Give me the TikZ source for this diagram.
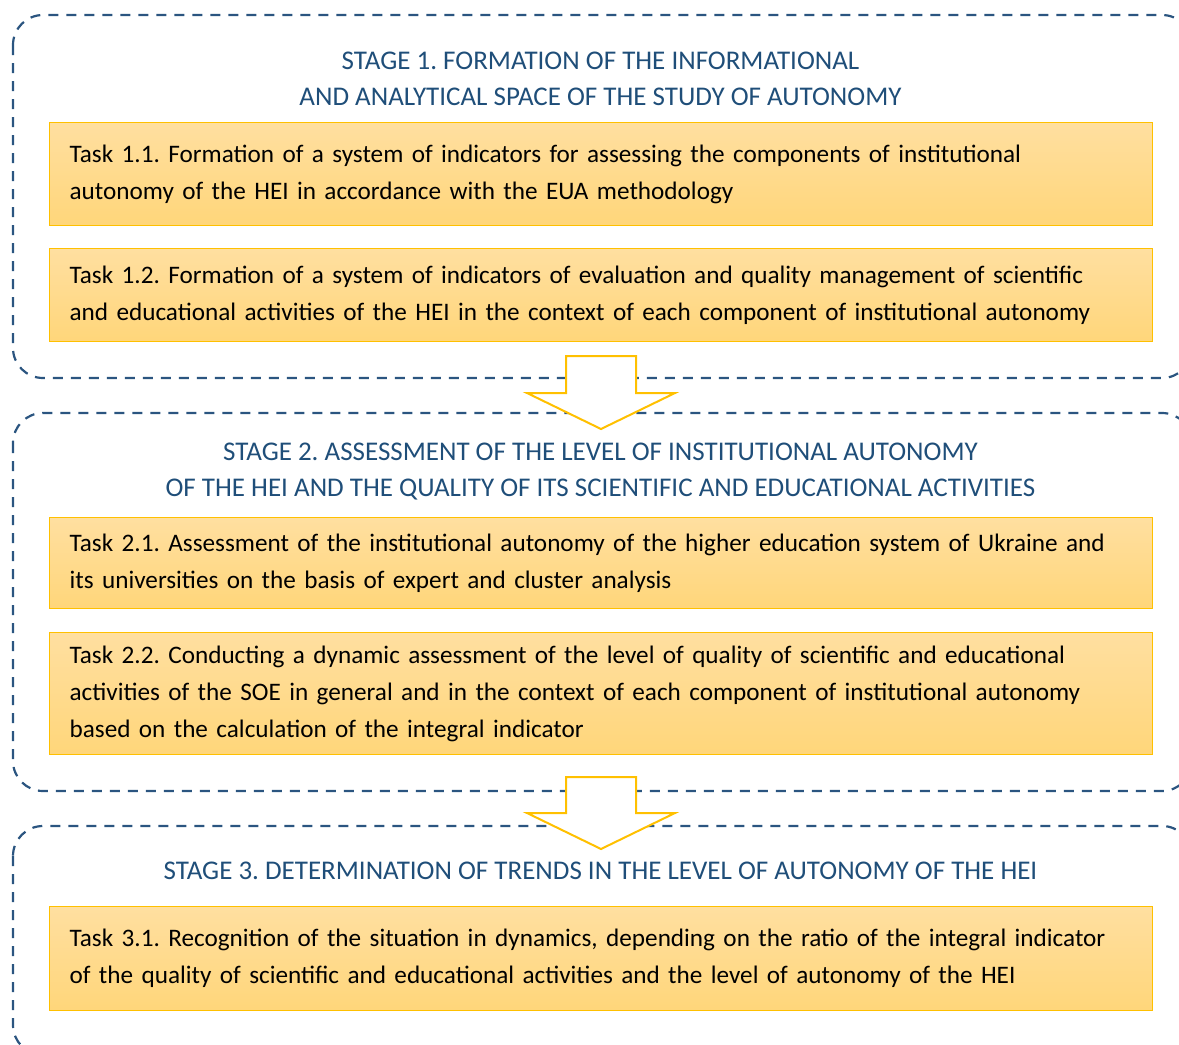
\documentclass[tikz,border=0pt]{standalone}
\usepackage{fontspec}
\setmainfont{Carlito}
\frenchspacing
\usetikzlibrary{positioning}
\definecolor{stageblue}{RGB}{43,85,128}
\definecolor{titleblue}{RGB}{31,78,121}
\definecolor{taskedge}{RGB}{255,192,0}
\definecolor{tasktop}{RGB}{255,223,160}
\definecolor{taskbottom}{RGB}{255,214,122}
\tikzstyle{task} = [draw=taskedge, line width=1.2pt, top color=tasktop, bottom color=taskbottom, rectangle, anchor=north west, text width=1063pt, inner xsep=20pt, align=left, font=\fontsize{25.2}{37}\selectfont]
\tikzstyle{stage} = [text=titleblue, align=center, font=\fontsize{27}{36}\selectfont]
\tikzstyle{frame} = [draw=stageblue, line width=2.2pt, dash pattern=on 10pt off 8pt, rounded corners=30pt]
\tikzstyle{bigarrow} = [draw=taskedge, line width=2pt, fill=white, line join=miter]

\begin{document}
\begin{tikzpicture}[x=1pt, y=-1pt, node distance=22pt]
    % picture area
    \clip (0,0) rectangle (1179,1045);
    \useasboundingbox (0,0) rectangle (1179,1045);

    % dashed stage frames
    \draw[frame] (13,15) rectangle (1192,378);
    \draw[frame] (13,413) rectangle (1192,791);
    \draw[frame] (13,826) rectangle (1192,1055);

    % stage 1
    \node [stage] (stage1) at (600.5,79) {STAGE 1. FORMATION OF THE INFORMATIONAL\\AND ANALYTICAL SPACE OF THE STUDY OF AUTONOMY};
    \node [task, minimum height=103pt] (t11) at (49,122) {Task 1.1. Formation of a system of indicators for assessing the components of institutional\\autonomy of the HEI in accordance with the EUA methodology};
    \node [task, minimum height=93pt, below=22pt of t11] (t12) {Task 1.2. Formation of a system of indicators of evaluation and quality management of scientific\\and educational activities of the HEI in the context of each component of institutional autonomy};

    % stage 2
    \node [stage] (stage2) at (600.5,472) {STAGE 2. ASSESSMENT OF THE LEVEL OF INSTITUTIONAL AUTONOMY\\OF THE HEI AND THE QUALITY OF ITS SCIENTIFIC AND EDUCATIONAL ACTIVITIES};
    \node [task, minimum height=91pt] (t21) at (49,517) {Task 2.1. Assessment of the institutional autonomy of the higher education system of Ukraine and\\its universities on the basis of expert and cluster analysis};
    \node [task, minimum height=122pt, below=23pt of t21] (t22) {Task 2.2. Conducting a dynamic assessment of the level of quality of scientific and educational\\activities of the SOE in general and in the context of each component of institutional autonomy\\based on the calculation of the integral indicator};

    % stage 3
    \node [stage] (stage3) at (600.5,871) {STAGE 3. DETERMINATION OF TRENDS IN THE LEVEL OF AUTONOMY OF THE HEI};
    \node [task, minimum height=104pt] (t31) at (49,906) {Task 3.1. Recognition of the situation in dynamics, depending on the ratio of the integral indicator\\of the quality of scientific and educational activities and the level of autonomy of the HEI};

    % block arrows between stages
    \coordinate (a1) at (601,356);
    \coordinate (a2) at (601,777);
    \draw[bigarrow] (a1) ++(-35,0) -- ++(70,0) -- ++(0,37) -- ++(39,0) -- ++(-74,36) -- ++(-74,-36) -- ++(39,0) -- cycle;
    \draw[bigarrow] (a2) ++(-35,0) -- ++(70,0) -- ++(0,36) -- ++(39,0) -- ++(-74,36) -- ++(-74,-36) -- ++(39,0) -- cycle;
\end{tikzpicture}
\end{document}
